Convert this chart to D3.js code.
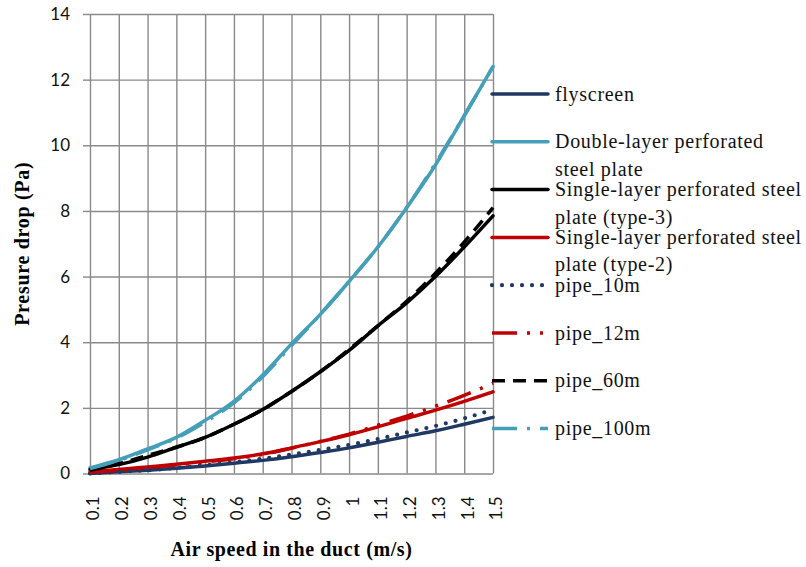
<!DOCTYPE html>
<html>
<head>
<meta charset="utf-8">
<script src="https://cdn.jsdelivr.net/npm/d3@7"></script>
<style>
  body{margin:0;background:#fff}
  svg{display:block}
</style>
</head>
<body>
<svg id="chart" width="806" height="567"></svg>
<script>
'use strict'

// air speed categories (m/s)
const speeds = ["0.1","0.2","0.3","0.4","0.5","0.6","0.7","0.8","0.9","1","1.1","1.2","1.3","1.4","1.5"]
const yTicks = [0,2,4,6,8,10,12,14]

// pressure drop (Pa)
const flyscreen = [0.0,0.05,0.1,0.16,0.23,0.31,0.4,0.51,0.64,0.78,0.95,1.13,1.3,1.5,1.71]
const doubleLayer = [0.17,0.42,0.75,1.1,1.62,2.2,3.0,3.95,4.85,5.85,6.9,8.1,9.4,10.9,12.4]
const singleType3 = [0.12,0.27,0.5,0.8,1.1,1.5,1.95,2.5,3.1,3.75,4.5,5.2,6.0,6.9,7.85]
const singleType2 = [0.05,0.12,0.2,0.28,0.37,0.47,0.6,0.78,0.97,1.18,1.42,1.68,1.93,2.2,2.49]
const pipe10 = [0.0,0.05,0.1,0.17,0.25,0.34,0.45,0.58,0.72,0.87,1.05,1.25,1.45,1.68,1.95]
const pipe12 = [0.04,0.1,0.18,0.26,0.35,0.45,0.58,0.77,0.98,1.2,1.47,1.75,2.05,2.38,2.75]
const pipe60 = [0.1,0.3,0.55,0.8,1.1,1.5,1.95,2.5,3.1,3.78,4.5,5.25,6.1,7.05,8.1]
const pipe100 = [0.15,0.4,0.72,1.08,1.57,2.15,2.95,3.9,4.85,5.85,6.9,8.1,9.45,10.9,12.4]

const seriesNames = [
  ["flyscreen"],
  ["Double-layer perforated","steel plate"],
  ["Single-layer perforated steel","plate (type-3)"],
  ["Single-layer perforated steel","plate (type-2)"],
  ["pipe_10m"],["pipe_12m"],["pipe_60m"],["pipe_100m"]
]
const seriesValues = [flyscreen,doubleLayer,singleType3,singleType2,pipe10,pipe12,pipe60,pipe100]

const navy = "#1f3864", teal = "#469fb8", red = "#c00000", black = "#000"
const styles = [
  {color:navy, dash:null, cap:"round", width:3.5},
  {color:teal, dash:null, cap:"round", width:3.5},
  {color:black, dash:null, cap:"round", width:3.5},
  {color:red, dash:null, cap:"round", width:3.5},
  {color:navy, dash:"0 10", cap:"round", width:4.2},
  {color:red, dash:"25 10 3 10 3 10", cap:"butt", width:3.5},
  {color:black, dash:"13 8", cap:"butt", width:3.5},
  {color:teal, dash:"25 10 3 10", cap:"butt", width:3.5}
]

const plotLeft = 90, plotRight = 493, plotTop = 14, plotBottom = 473.5
const gridColor = "#8a8a8a"

const svg = d3.select("#chart")

const x = d3.scalePoint().domain(speeds).range([plotLeft,plotRight])
const y = d3.scaleLinear().domain([0,14]).range([plotBottom,plotTop])

// grid
svg.append("g")
  .attr("transform",`translate(${plotLeft},0)`)
  .call(d3.axisLeft(y).tickValues(yTicks).tickSize(-(plotRight-plotLeft)).tickFormat(""))
  .call(g=>g.select(".domain").remove())
  .selectAll("line").attr("stroke",gridColor).attr("stroke-width",1.4)

svg.append("g")
  .attr("transform",`translate(0,${plotBottom})`)
  .call(d3.axisBottom(x).tickSize(-(plotBottom-plotTop)).tickFormat(""))
  .call(g=>g.select(".domain").remove())
  .selectAll("line").attr("stroke",gridColor).attr("stroke-width",1.4)

// y axis labels
svg.append("g")
  .attr("transform",`translate(${plotLeft},0)`)
  .call(d3.axisLeft(y).tickValues(yTicks).tickSize(7).tickPadding(13))
  .call(g=>g.select(".domain").remove())
  .call(g=>g.selectAll("line").attr("stroke",gridColor).attr("stroke-width",1.4))
  .call(g=>g.selectAll("text").attr("font-family","Lato").attr("font-size",17).attr("fill","#111"))

// x axis labels
svg.append("g")
  .attr("transform",`translate(0,${plotBottom})`)
  .call(d3.axisBottom(x).tickSize(0))
  .call(g=>g.select(".domain").remove())
  .call(g=>g.selectAll("text")
    .attr("font-family","Lato").attr("font-size",17).attr("fill","#111")
    .attr("transform","rotate(-90)")
    .attr("text-anchor","end")
    .attr("x",-23).attr("y",3).attr("dy","0.35em"))

// titles
svg.append("text")
  .attr("x",(plotLeft+plotRight)/2).attr("y",556)
  .attr("text-anchor","middle")
  .attr("font-family","Liberation Serif").attr("font-weight","bold")
  .attr("font-size",20).attr("letter-spacing",0.6)
  .text("Air speed in the duct (m/s)")

svg.append("text")
  .attr("transform",`translate(29,${(plotTop+plotBottom)/2}) rotate(-90)`)
  .attr("text-anchor","middle")
  .attr("font-family","Liberation Serif").attr("font-weight","bold")
  .attr("font-size",20).attr("letter-spacing",0.7)
  .text("Presure drop (Pa)")

// series
const line = d3.line()
  .x((d,i)=>x(speeds[i]))
  .y(d=>y(d))
  .curve(d3.curveMonotoneX)

function styleLine(sel,s){
  sel.attr("fill","none")
    .attr("stroke",s.color)
    .attr("stroke-width",s.width)
    .attr("stroke-linecap",s.cap)
    .attr("stroke-linejoin","round")
    .attr("stroke-dasharray",s.dash)
}

seriesValues.forEach((vals,i)=>{
  svg.append("path").datum(vals).attr("d",line).call(styleLine,styles[i])
})

// legend
const legend = svg.append("g")
seriesNames.forEach((name,i)=>{
  let ly = 94 + i*47.8
  let g = legend.append("g").attr("transform",`translate(0,${ly})`)
  g.append("line").attr("x1",492).attr("x2",548).attr("y1",0).attr("y2",0).call(styleLine,styles[i])
  let t = g.append("text")
    .attr("font-family","Liberation Serif").attr("font-size",20)
    .attr("letter-spacing",0.7).attr("fill","#111")
  name.forEach((n,k)=>{
    t.append("tspan").attr("x",555).attr("y",k*27.5).attr("dy","0.33em").text(n)
  })
})
</script>
</body>
</html>
